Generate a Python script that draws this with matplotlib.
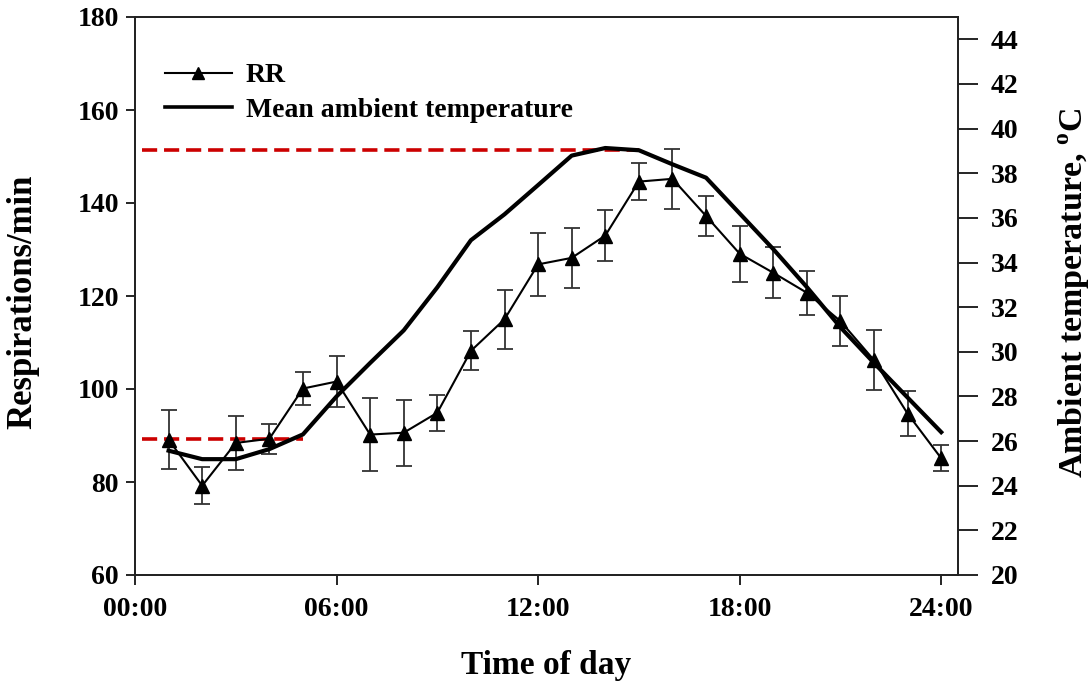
import matplotlib
matplotlib.use("Agg")
import matplotlib.pyplot as plt

# ---- data ----
hours = list(range(1, 25))
rr = [89.1, 79.2, 88.4, 89.3, 100.1, 101.6, 90.2, 90.6, 94.9, 108.2, 115.0, 126.8,
      128.2, 133.0, 144.6, 145.2, 137.2, 129.1, 125.0, 120.7, 114.6, 106.2, 94.7, 85.1]
rr_err = [6.3, 4.0, 5.8, 3.2, 3.6, 5.5, 7.8, 7.1, 3.9, 4.2, 6.3, 6.7, 6.5, 5.4,
          4.0, 6.4, 4.2, 6.0, 5.5, 4.7, 5.3, 6.5, 4.8, 2.8]
temp = [25.57, 25.19, 25.19, 25.64, 26.3, 28.0, 29.5, 30.96, 32.89, 35.0, 36.16, 37.47,
        38.79, 39.13, 39.03, 38.4, 37.8, 36.2, 34.6, 32.9, 31.1, 29.5, 27.95, 26.4]
ref_levels = [151.3, 89.2]      # red dashed reference lines (Respirations/min)
ref_x_end = [15, 5]
x_ticks = [0, 6, 12, 18, 24]
x_labels = ["00:00", "06:00", "12:00", "18:00", "24:00"]
left_ticks = [60, 80, 100, 120, 140, 160, 180]
right_ticks = list(range(20, 45, 2))

plt.rcParams['font.family'] = ['Liberation Serif', 'DejaVu Serif']
plt.rcParams['font.weight'] = 'bold'
plt.rcParams['mathtext.fontset'] = 'custom'
plt.rcParams['mathtext.rm'] = 'Liberation Serif:bold'
plt.rcParams['mathtext.bf'] = 'Liberation Serif:bold'

fig = plt.figure(figsize=(10.91, 6.87), dpi=100)
ax = fig.add_axes([135/1091, 1-575/687, (958-135)/1091, (575-17)/687])
ax2 = ax.twinx()

# red dashed reference lines
for lvl, xe in zip(ref_levels, ref_x_end):
    ax.plot([0.2, xe], [lvl, lvl], color='#cc0000', lw=2.6, dashes=(4.2, 1.9), zorder=1)

# RR with error bars
ax.errorbar(hours, rr, yerr=rr_err, fmt='none', ecolor='#333333', elinewidth=1.3,
            capsize=6, capthick=1.3, zorder=2)
rr_line, = ax.plot(hours, rr, color='black', lw=1.5, marker='^', markersize=10,
                   markerfacecolor='black', markeredgecolor='black', zorder=3, label='RR')

# temperature
t_line, = ax2.plot(hours, temp, color='black', lw=3.0, solid_joinstyle='round',
                   label='Mean ambient temperature')

ax.set_xlim(0, 24.5)
ax.set_ylim(60, 180)
ax2.set_ylim(20, 45)
ax.set_xticks(x_ticks)
ax.set_xticklabels(x_labels)
ax.set_yticks(left_ticks)
ax2.set_yticks(right_ticks)

for a in (ax, ax2):
    for s in a.spines.values():
        s.set_linewidth(1.3)
        s.set_color('#222222')

ax.tick_params(axis='x', direction='out', length=7, width=1.2, pad=9, labelsize=20)
ax.tick_params(axis='y', direction='out', length=6.5, width=1.2, pad=5, labelsize=20)
ax2.tick_params(axis='y', direction='out', length=14.5, width=1.2, pad=9, labelsize=20)

ax.set_xlabel('Time of day', fontsize=24, fontweight='bold', labelpad=20)
ax.set_ylabel('Respirations/min', fontsize=25, fontweight='bold')
ax.yaxis.set_label_coords(-0.116, 0.49)
ax2.set_ylabel(r'Ambient temperature, $^{\rm o}$C', fontsize=24.5, fontweight='bold',
               rotation=90)
ax2.yaxis.set_label_coords(1.12, 0.505)

leg = ax.legend(handles=[rr_line, t_line], loc='upper left', frameon=False,
                bbox_to_anchor=(165/1091, 1-63/687), bbox_transform=fig.transFigure,
                borderpad=0, borderaxespad=0, handlelength=2.4, handletextpad=0.5,
                labelspacing=0.32, prop={'family': 'Liberation Serif', 'weight': 'bold', 'size': 20})
leg.legend_handles[0].set_markersize(9)
leg.legend_handles[1].set_linewidth(2.6)

fig.savefig('out.png', dpi=100)
